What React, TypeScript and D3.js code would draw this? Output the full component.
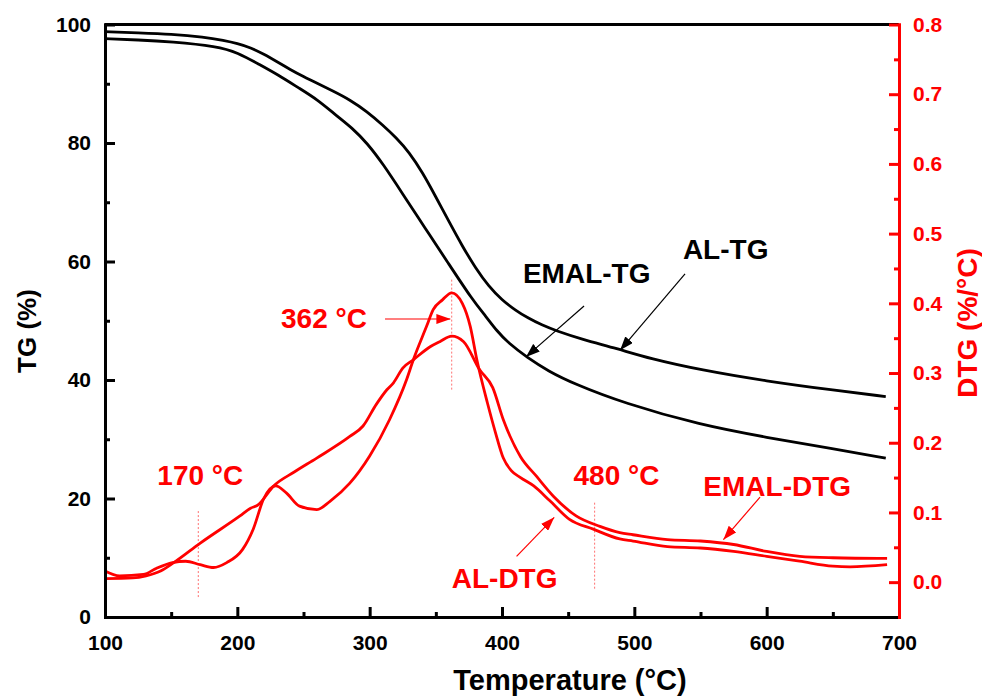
import React, { useEffect, useRef } from "react";
import * as d3 from "d3";

// chart size and plot area
const width = 982,
  height = 698;
const margin = { top: 24.5, right: 83, bottom: 81, left: 105 };

// TG curves: [temperature °C, mass %]
const alTG: [number, number][] = [
  [100, 98.8], [125, 98.6], [150, 98.4], [175, 97.9], [190, 97.3], [200, 96.8],
  [210, 96.1], [220, 95.0], [230, 93.7], [240, 92.4], [250, 91.2], [260, 90.1],
  [272, 88.8], [285, 87.3], [298, 85.3], [310, 83.0], [320, 80.9], [330, 78.4],
  [340, 75.0], [350, 70.9], [360, 66.7], [370, 62.6], [380, 58.9], [390, 55.8],
  [400, 53.5], [410, 51.8], [420, 50.4], [430, 49.3], [441, 48.3], [460, 46.9],
  [487, 45.3], [512, 43.6], [550, 41.7], [600, 39.8], [650, 38.3], [690, 37.2],
];
const emalTG: [number, number][] = [
  [100, 97.6], [125, 97.4], [150, 97.1], [185, 96.3], [200, 95.3], [217, 93.2],
  [230, 91.6], [247, 89.2], [260, 87.4], [275, 84.6], [287, 82.5], [298, 80.0],
  [310, 76.5], [325, 71.4], [342, 65.6], [358, 60.2], [378, 53.4], [388, 50.7],
  [396, 48.3], [405, 46.2], [419, 43.8], [435, 41.5], [454, 39.4], [492, 36.1],
  [550, 32.4], [600, 30.3], [650, 28.4], [690, 26.8],
];

// DTG curves: [temperature °C, %/°C]
const alDTG: [number, number][] = [
  [100, 0.016], [111, 0.009], [129, 0.011], [139, 0.02], [151, 0.028], [161, 0.03],
  [172, 0.025], [182, 0.021], [192, 0.028], [204, 0.047], [212, 0.076], [220, 0.12],
  [229, 0.138], [237, 0.128], [247, 0.109], [260, 0.104], [270, 0.116], [285, 0.142],
  [300, 0.181], [315, 0.233], [328, 0.291], [333, 0.319], [343, 0.367], [348, 0.391],
  [355, 0.405], [362, 0.415], [370, 0.4], [376, 0.367], [381, 0.319], [389, 0.257],
  [395, 0.215], [401, 0.178], [407, 0.16], [414, 0.15], [424, 0.138], [436, 0.117],
  [451, 0.09], [469, 0.076], [489, 0.062], [499, 0.059], [525, 0.051], [550, 0.049],
  [575, 0.044], [600, 0.037], [625, 0.03], [650, 0.023], [663, 0.022], [691, 0.025],
];
const emalDTG: [number, number][] = [
  [100, 0.005], [121, 0.006], [131, 0.009], [142, 0.016], [152, 0.028], [172, 0.056],
  [202, 0.095], [210, 0.106], [215, 0.11], [228, 0.139], [243, 0.158], [260, 0.178],
  [285, 0.209], [295, 0.224], [305, 0.255], [313, 0.276], [318, 0.286], [325, 0.307],
  [333, 0.319], [346, 0.338], [353, 0.345], [362, 0.353], [371, 0.345], [383, 0.305],
  [393, 0.279], [401, 0.233], [414, 0.18], [426, 0.152], [439, 0.123], [456, 0.095],
  [474, 0.08], [489, 0.071], [499, 0.068], [525, 0.061], [550, 0.059], [575, 0.054],
  [600, 0.044], [625, 0.037], [650, 0.035], [691, 0.034],
];

// axis ticks
const xMajor = [100, 200, 300, 400, 500, 600, 700];
const xMinor = [150, 250, 350, 450, 550, 650];
const tgMajor = [0, 20, 40, 60, 80, 100];
const tgMinor = [10, 30, 50, 70, 90];
const dtgMajor = [0, 0.1, 0.2, 0.3, 0.4, 0.5, 0.6, 0.7, 0.8];
const dtgMinor = [0.05, 0.15, 0.25, 0.35, 0.45, 0.55, 0.65, 0.75];

// dotted peak markers: [temperature, from dtg, to dtg]
const markers: [number, number, number][] = [
  [170.5, 0.102, -0.022],
  [362, 0.434, 0.274],
  [470, 0.114, -0.01],
];

// annotations (red ones on the DTG scale, black ones on the TG scale)
const redLabels: [string, number, number][] = [
  ["170 °C", 172, 0.14],
  ["362 °C", 265.5, 0.365],
  ["480 °C", 486.5, 0.139],
  ["EMAL-DTG", 608, 0.123],
  ["AL-DTG", 402, -0.009],
];
const blackLabels: [string, number, number][] = [
  ["EMAL-TG", 464, 56.4],
  ["AL-TG", 569, 60.4],
];
// arrows: [x1, y1, x2, y2] in data units
const redArrows: [number, number, number, number][] = [
  [311.6, 0.3775, 361, 0.3775],
  [411, 0.037, 439.5, 0.093],
  [595, 0.122, 567.3, 0.061],
];
const blackArrows: [number, number, number, number][] = [
  [538.3, 57.9, 489.2, 45.0],
  [462, 52.5, 418.1, 43.9],
];

const RED = "#ff0000";
const FONT = "'Liberation Sans', Arial, sans-serif";

export default function App() {
  const ref = useRef<SVGSVGElement>(null);

  useEffect(() => {
    const svg = d3.select(ref.current);
    svg.selectAll("*").remove();

    const x = d3.scaleLinear().domain([100, 700]).range([margin.left, width - margin.right]);
    const yTG = d3.scaleLinear().domain([0, 100]).range([height - margin.bottom, margin.top]);
    const yDTG = d3.scaleLinear().domain([-0.05, 0.8]).range([height - margin.bottom, margin.top]);

    const defs = svg.append("defs");
    [["headBlack", "#000"], ["headRed", RED]].forEach(([id, col]) => {
      defs
        .append("marker")
        .attr("id", id)
        .attr("viewBox", "0 0 10 10")
        .attr("refX", 10)
        .attr("refY", 5)
        .attr("markerUnits", "userSpaceOnUse")
        .attr("markerWidth", 14)
        .attr("markerHeight", 10)
        .attr("preserveAspectRatio", "none")
        .attr("orient", "auto")
        .append("path")
        .attr("d", "M0,0L10,5L0,10z")
        .attr("fill", col);
    });

    // dotted markers
    svg
      .append("g")
      .selectAll("line")
      .data(markers)
      .enter()
      .append("line")
      .attr("x1", (d) => x(d[0]))
      .attr("x2", (d) => x(d[0]))
      .attr("y1", (d) => yDTG(d[1]))
      .attr("y2", (d) => yDTG(d[2]))
      .attr("stroke", "#ff7070")
      .attr("stroke-width", 1)
      .attr("stroke-dasharray", "2,2");

    // curves
    const lineTG = d3
      .line<[number, number]>()
      .x((d) => x(d[0]))
      .y((d) => yTG(d[1]))
      .curve(d3.curveBasis);
    const lineDTG = d3
      .line<[number, number]>()
      .x((d) => x(d[0]))
      .y((d) => yDTG(d[1]))
      .curve(d3.curveMonotoneX);

    [alTG, emalTG].forEach((s) =>
      svg.append("path").attr("d", lineTG(s)).attr("fill", "none").attr("stroke", "#000").attr("stroke-width", 2.8)
    );
    [alDTG, emalDTG].forEach((s) =>
      svg.append("path").attr("d", lineDTG(s)).attr("fill", "none").attr("stroke", RED).attr("stroke-width", 2.8)
    );

    // arrows
    svg
      .append("g")
      .selectAll("line")
      .data(redArrows)
      .enter()
      .append("line")
      .attr("x1", (d) => x(d[0]))
      .attr("y1", (d) => yDTG(d[1]))
      .attr("x2", (d) => x(d[2]))
      .attr("y2", (d) => yDTG(d[3]))
      .attr("stroke", RED)
      .attr("stroke-width", 1.2)
      .attr("marker-end", "url(#headRed)");
    svg
      .append("g")
      .selectAll("line")
      .data(blackArrows)
      .enter()
      .append("line")
      .attr("x1", (d) => x(d[0]))
      .attr("y1", (d) => yTG(d[1]))
      .attr("x2", (d) => x(d[2]))
      .attr("y2", (d) => yTG(d[3]))
      .attr("stroke", "#000")
      .attr("stroke-width", 1.2)
      .attr("marker-end", "url(#headBlack)");

    // labels
    svg
      .append("g")
      .selectAll("text")
      .data(redLabels)
      .enter()
      .append("text")
      .attr("x", (d) => x(d[1]))
      .attr("y", (d) => yDTG(d[2]))
      .attr("text-anchor", "middle")
      .attr("fill", RED)
      .style("font", `bold 28px ${FONT}`)
      .text((d) => d[0]);
    svg
      .append("g")
      .selectAll("text")
      .data(blackLabels)
      .enter()
      .append("text")
      .attr("x", (d) => x(d[1]))
      .attr("y", (d) => yTG(d[2]))
      .attr("text-anchor", "middle")
      .attr("fill", "#000")
      .style("font", `bold 28px ${FONT}`)
      .text((d) => d[0]);

    // axes
    const styleAxis = (g: any, col: string) => {
      g.selectAll("path").attr("stroke", col).attr("stroke-width", 3).attr("stroke-linecap", "square");
      g.selectAll("line").attr("stroke", col).attr("stroke-width", 3);
      g.selectAll("text").attr("fill", col).style("font", `bold 21px ${FONT}`);
    };
    const bottom = height - margin.bottom;
    const right = width - margin.right;

    // top frame line
    svg
      .append("line")
      .attr("x1", margin.left)
      .attr("x2", right)
      .attr("y1", margin.top)
      .attr("y2", margin.top)
      .attr("stroke", "#000")
      .attr("stroke-width", 3);

    const gxm = svg.append("g").attr("transform", `translate(0,${bottom})`)
      .call(d3.axisBottom(x).tickValues(xMinor).tickSize(-5).tickSizeOuter(0).tickFormat(() => ""));
    styleAxis(gxm, "#000");
    const gx = svg.append("g").attr("transform", `translate(0,${bottom})`)
      .call(d3.axisBottom(x).tickValues(xMajor).tickSize(-10).tickSizeOuter(0).tickPadding(18));
    styleAxis(gx, "#000");

    const gym = svg.append("g").attr("transform", `translate(${margin.left},0)`)
      .call(d3.axisLeft(yTG).tickValues(tgMinor).tickSize(-5).tickSizeOuter(0).tickFormat(() => ""));
    styleAxis(gym, "#000");
    const gy = svg.append("g").attr("transform", `translate(${margin.left},0)`)
      .call(d3.axisLeft(yTG).tickValues(tgMajor).tickSize(-10).tickSizeOuter(0).tickPadding(14));
    styleAxis(gy, "#000");

    const grm = svg.append("g").attr("transform", `translate(${right},0)`)
      .call(d3.axisRight(yDTG).tickValues(dtgMinor).tickSize(-5).tickSizeOuter(0).tickFormat(() => ""));
    styleAxis(grm, RED);
    const gr = svg.append("g").attr("transform", `translate(${right},0)`)
      .call(d3.axisRight(yDTG).tickValues(dtgMajor).tickSize(-10).tickSizeOuter(0).tickPadding(14)
        .tickFormat(d3.format(".1f")));
    styleAxis(gr, RED);

    // axis titles
    svg
      .append("text")
      .attr("transform", "translate(27,331) rotate(-90)")
      .attr("text-anchor", "middle")
      .attr("dy", "0.35em")
      .style("font", `bold 26px ${FONT}`)
      .text("TG (%)");
    svg
      .append("text")
      .attr("transform", "translate(967,323) rotate(-90)")
      .attr("text-anchor", "middle")
      .attr("dy", "0.35em")
      .attr("fill", RED)
      .style("font", `bold 28px ${FONT}`)
      .text("DTG (%/°C)");
    svg
      .append("text")
      .attr("x", 570)
      .attr("y", 690)
      .attr("text-anchor", "middle")
      .style("font", `bold 29px ${FONT}`)
      .text("Temperature (°C)");
  }, []);

  return (
    <svg
      ref={ref}
      width={width}
      height={height}
      style={{ position: "absolute", left: 0, top: 0, background: "#fff", display: "block" }}
    />
  );
}
